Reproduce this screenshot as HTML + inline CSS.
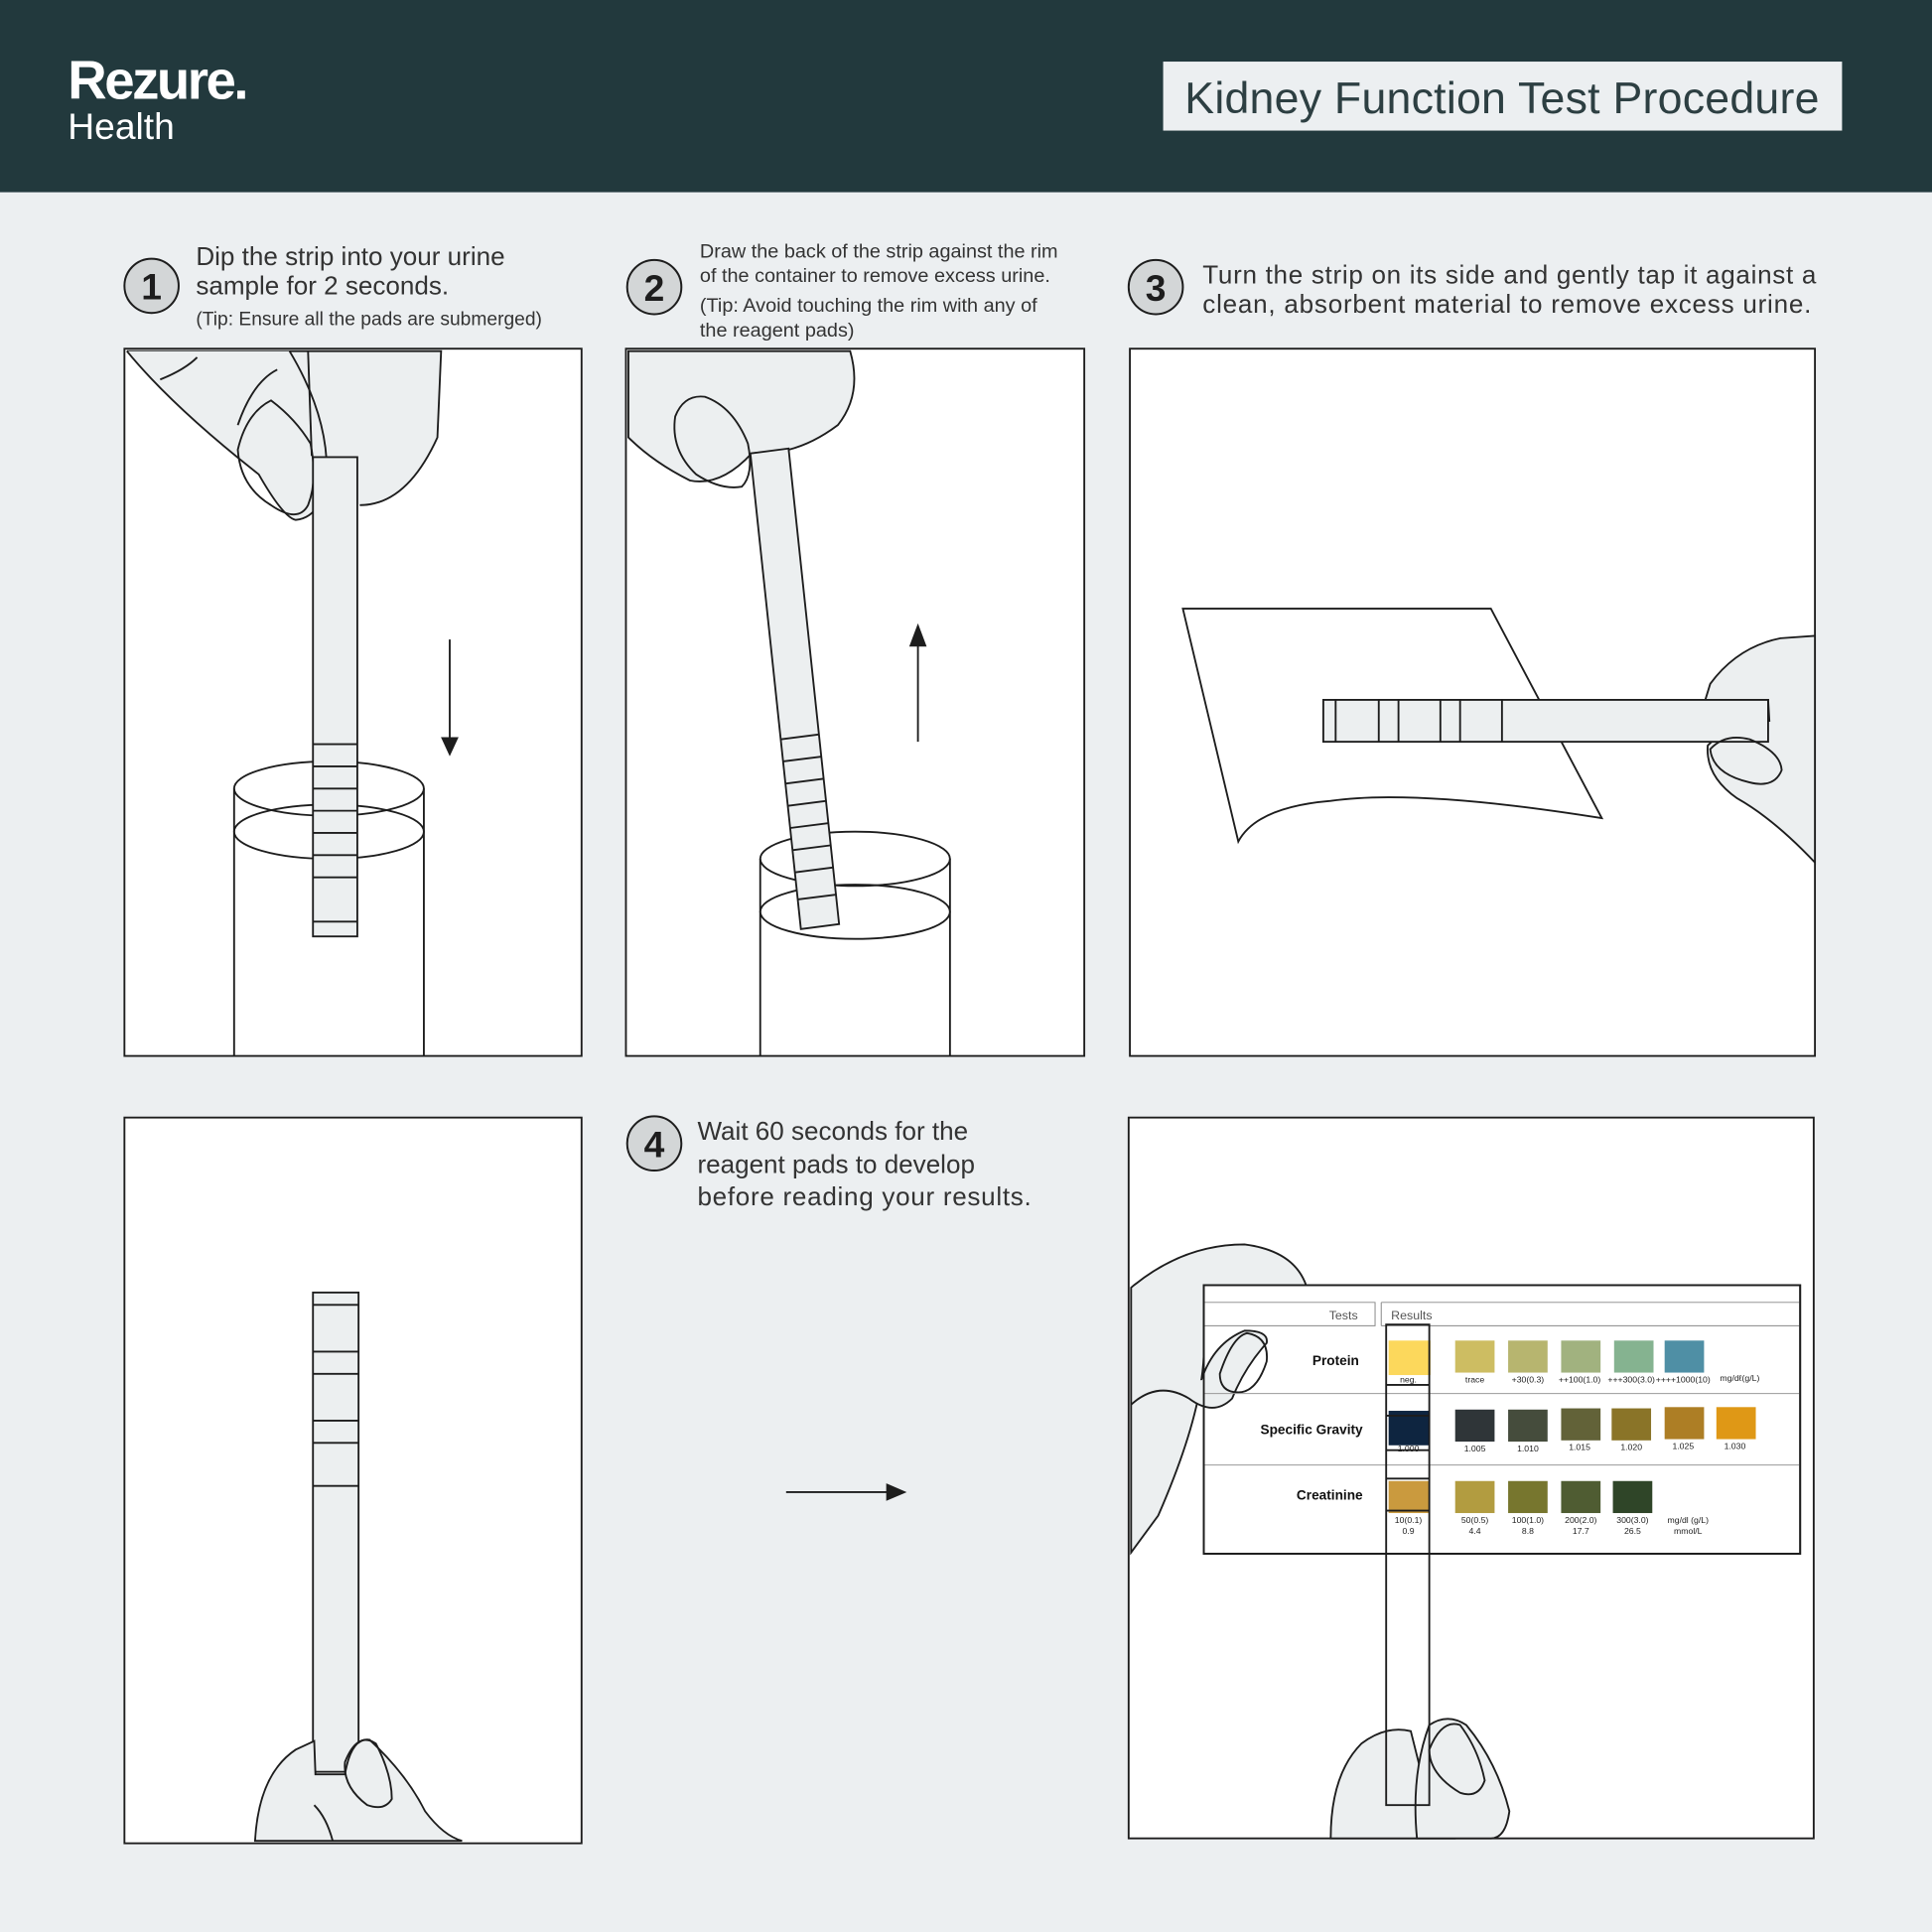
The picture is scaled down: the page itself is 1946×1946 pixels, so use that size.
<!DOCTYPE html>
<html><head><meta charset="utf-8"><style>
html,body{margin:0;padding:0;background:#eceff1;}
svg{display:block;}
text{font-family:"Liberation Sans",sans-serif;}
</style></head><body>
<svg width="1946" height="1946" viewBox="0 0 1568 1568" xmlns="http://www.w3.org/2000/svg">
<rect width="1568" height="1568" fill="#eceff1"/>
<rect width="1568" height="156" fill="#22393d"/>
<text x="55" y="80" fill="#fff" font-size="44" font-weight="bold" letter-spacing="-2">Rezure.</text>
<text x="55" y="113" fill="#fff" font-size="30">Health</text>
<rect x="944" y="50" width="551" height="56" fill="#eceff1"/>
<text x="1219" y="92" fill="#2d3f42" font-size="36" text-anchor="middle" textLength="515">Kidney Function Test Procedure</text>

<g fill="none" stroke="#1d1d1d" stroke-width="1.6">
<g fill="#d3d6d7"><circle cx="123" cy="232" r="22"/><circle cx="531" cy="233" r="22"/><circle cx="938" cy="233" r="22"/><circle cx="531" cy="928" r="22"/></g>
</g>
<g font-weight="bold" font-size="30" fill="#1d1d1d" text-anchor="middle">
<text x="123" y="243">1</text><text x="531" y="244">2</text><text x="938" y="244">3</text><text x="531" y="939">4</text></g>
<g fill="#333">
<text x="159" y="215" font-size="21">Dip the strip into your urine</text>
<text x="159" y="239" font-size="21">sample for 2 seconds.</text>
<text x="159" y="264" font-size="15.5">(Tip: Ensure all the pads are submerged)</text>
<text x="568" y="209" font-size="16">Draw the back of the strip against the rim</text>
<text x="568" y="229" font-size="16">of the container to remove excess urine.</text>
<text x="568" y="253" font-size="16">(Tip: Avoid touching the rim with any of</text>
<text x="568" y="273" font-size="16">the reagent pads)</text>
<text x="976" y="230" font-size="21" textLength="498">Turn the strip on its side and gently tap it against a</text>
<text x="976" y="254" font-size="21" textLength="494">clean, absorbent material to remove excess urine.</text>
<text x="566" y="925" font-size="21">Wait 60 seconds for the</text>
<text x="566" y="952" font-size="21">reagent pads to develop</text>
<text x="566" y="978" font-size="21" textLength="271">before reading your results.</text>
</g>

<g stroke="#1d1d1d" stroke-width="1.5" fill="#fff">
<rect x="101" y="283" width="371" height="574"/>
<rect x="508" y="283" width="372" height="574"/>
<rect x="917" y="283" width="556" height="574"/>
<rect x="101" y="907" width="371" height="589"/>
<rect x="916" y="907" width="556" height="585"/>
</g>

<g stroke="#1d1d1d" stroke-width="1.5" fill="none">
<!-- Panel 1 -->
<path d="M103 285 L358 285 L355 355 Q330 410 292 410" fill="#eceff0"/>
<path d="M103 285 Q140 330 210 385 Q230 420 240 422 Q260 420 265 390 Q268 340 235 285" fill="#eceff0"/>
<path d="M250 285 L253 370" />
<path d="M193 365 Q200 335 220 325 Q240 340 252 360 Q258 390 250 410 Q242 425 220 410 Q195 395 193 365Z"/>
<path d="M193 345 Q205 310 225 300"/>
<path d="M130 308 Q150 300 160 290"/>
<path d="M190 640 L190 857 M344 640 L344 857"/>
<ellipse cx="267" cy="640" rx="77" ry="22"/>
<ellipse cx="267" cy="675" rx="77" ry="22"/>
<rect x="254" y="371" width="36" height="389" fill="#eceff0"/>
<path d="M254 604H290M254 622H290M254 640H290M254 658H290M254 676H290M254 694H290M254 712H290M254 748H290"/>
<path d="M365 519V608"/><path d="M359 599L365 612L371 599Z" fill="#1d1d1d"/>

<!-- Panel 2 -->
<path d="M617 697V857M771 697V857"/>
<ellipse cx="694" cy="697" rx="77" ry="22"/>
<ellipse cx="694" cy="740" rx="77" ry="22"/>
<path d="M510 285L690 285Q700 320 680 345Q660 360 640 365L610 368Q585 395 560 390Q530 375 510 355Z" fill="#eceff0"/>
<path d="M548 338Q555 320 572 322Q595 330 607 360Q612 385 602 395Q585 398 565 385Q544 365 548 338Z"/>
<path d="M609 368L640 364L681 750L650 754Z" fill="#eceff0"/>
<path d="M633.6 600L665.1 596M635.5 618L667 614M637.4 636L668.9 632M639.4 654L670.8 650M641.3 672L672.7 668M643.2 690L674.6 686M645.1 708L676.5 704M647.5 730L678.9 726"/>
<path d="M745 602V514"/><path d="M739 524L745 508L751 524Z" fill="#1d1d1d"/>

<!-- Panel 3 -->
<path d="M960 494L1210 494L1300 664Q1150 640 1080 650Q1020 655 1005 683Z" fill="#fff"/>
<path d="M1473 516L1445 518Q1410 525 1388 555L1384 568L1435 568L1436 585Q1400 590 1386 605Q1384 630 1410 648Q1440 665 1473 700Z" fill="#eceff0"/>
<rect x="1074" y="568" width="361" height="34" fill="#eceff0"/>
<path d="M1084 568V602M1119 568V602M1135 568V602M1169 568V602M1185 568V602M1219 568V602"/>
<path d="M1388 608Q1400 595 1420 600Q1445 610 1446 625Q1440 640 1420 635Q1390 628 1388 608Z"/>

<!-- Panel 4 left -->
<rect x="254" y="1049" width="37" height="389" fill="#eceff0"/>
<path d="M254 1059H291M254 1097H291M254 1115H291M254 1153H291M254 1171H291M254 1206H291"/>
<path d="M207 1494Q210 1440 240 1420L255 1413L256 1440L280 1440Q285 1410 300 1412Q330 1440 345 1470Q360 1490 375 1494Z" fill="#eceff0"/>
<path d="M280 1430Q290 1405 305 1415Q318 1440 318 1460Q312 1470 298 1465Q278 1450 280 1430Z"/>
<path d="M255 1465Q265 1475 270 1494"/>

<!-- Middle arrow -->
<path d="M638 1211H726"/><path d="M720 1205L734 1211L720 1217Z" fill="#1d1d1d"/>

<!-- Panel 5 -->
<path d="M918 1045Q960 1010 1010 1010Q1050 1015 1060 1043L977 1043L977 1100Q975 1150 940 1230L918 1260Z" fill="#eceff0"/>
<rect x="977" y="1043" width="484" height="218" fill="#fff"/>
<path d="M918 1140Q940 1120 965 1135Q985 1150 1000 1135Q1010 1110 1028 1090Q1030 1080 1010 1080Q985 1090 975 1120" fill="#eceff0"/>
<path d="M990 1115Q1000 1085 1012 1082Q1030 1085 1028 1105Q1020 1130 1005 1130Q990 1130 990 1115Z"/>
<path d="M1080 1492Q1080 1440 1105 1415Q1125 1400 1145 1405L1160 1465L1180 1492Z" fill="#eceff0"/>
<path d="M1150 1492Q1145 1440 1160 1400Q1175 1390 1190 1400Q1215 1430 1225 1470Q1222 1492 1210 1492Z" fill="#eceff0"/>
<path d="M1160 1420Q1170 1395 1185 1400Q1200 1420 1205 1445Q1200 1460 1185 1455Q1160 1440 1160 1420Z"/>
</g>
<!-- chart -->
<g stroke="#888" stroke-width="0.8" fill="none">
<path d="M977 1057H1116V1076H977M1121 1057H1461M1121 1076H1461M1121 1057V1076"/>
<path d="M977 1131H1461M977 1189H1461" stroke="#999"/>
</g>
<g font-size="10" fill="#555"><text x="1102" y="1071" text-anchor="end">Tests</text><text x="1129" y="1071">Results</text></g>
<g font-size="11" font-weight="bold" fill="#111" text-anchor="end">
<text x="1103" y="1108">Protein</text><text x="1106" y="1164">Specific Gravity</text><text x="1106" y="1217">Creatinine</text></g>
<g>
<rect x="1127" y="1088" width="34" height="28" fill="#fcd85c"/>
<rect x="1181" y="1088" width="32" height="26" fill="#cdbd62"/>
<rect x="1224" y="1088" width="32" height="26" fill="#b7b56f"/>
<rect x="1267" y="1088" width="32" height="26" fill="#a1b27f"/>
<rect x="1310" y="1088" width="32" height="26" fill="#85b390"/>
<rect x="1351" y="1088" width="32" height="26" fill="#4f8fa5"/>
<rect x="1127" y="1145" width="33" height="28" fill="#0e2540"/>
<rect x="1181" y="1144" width="32" height="26" fill="#2f3538"/>
<rect x="1224" y="1144" width="32" height="26" fill="#454c3c"/>
<rect x="1267" y="1143" width="32" height="26" fill="#626238"/>
<rect x="1308" y="1143" width="32" height="26" fill="#8a7428"/>
<rect x="1351" y="1142" width="32" height="26" fill="#ad7e25"/>
<rect x="1393" y="1142" width="32" height="26" fill="#df9816"/>
<rect x="1127" y="1202" width="33" height="26" fill="#ca9a3e"/>
<rect x="1181" y="1202" width="32" height="26" fill="#b29c40"/>
<rect x="1224" y="1202" width="32" height="26" fill="#77762e"/>
<rect x="1267" y="1202" width="32" height="26" fill="#4f5c32"/>
<rect x="1309" y="1202" width="32" height="26" fill="#2f4528"/>
</g>
<g font-size="7" fill="#222" text-anchor="middle">
<text x="1143" y="1122">neg.</text><text x="1197" y="1122">trace</text><text x="1240" y="1122">+30(0.3)</text><text x="1282" y="1122">++100(1.0)</text><text x="1324" y="1122">+++300(3.0)</text><text x="1366" y="1122">++++1000(10)</text><text x="1412" y="1121">mg/dℓ(g/L)</text>
<text x="1143" y="1178">1.000</text><text x="1197" y="1178">1.005</text><text x="1240" y="1178">1.010</text><text x="1282" y="1177">1.015</text><text x="1324" y="1177">1.020</text><text x="1366" y="1176">1.025</text><text x="1408" y="1176">1.030</text>
<text x="1143" y="1236">10(0.1)</text><text x="1143" y="1245">0.9</text>
<text x="1197" y="1236">50(0.5)</text><text x="1197" y="1245">4.4</text>
<text x="1240" y="1236">100(1.0)</text><text x="1240" y="1245">8.8</text>
<text x="1283" y="1236">200(2.0)</text><text x="1283" y="1245">17.7</text>
<text x="1325" y="1236">300(3.0)</text><text x="1325" y="1245">26.5</text>
<text x="1370" y="1236">mg/dl (g/L)</text><text x="1370" y="1245">mmol/L</text>
</g>
<g stroke="#1d1d1d" stroke-width="1.5" fill="none">
<rect x="977" y="1043" width="484" height="218"/>
<rect x="1125" y="1075" width="35" height="390"/>
<path d="M1125 1124H1160M1125 1149H1160M1125 1177H1160M1125 1200H1160M1125 1226H1160"/>
</g>
</svg>
</body></html>
